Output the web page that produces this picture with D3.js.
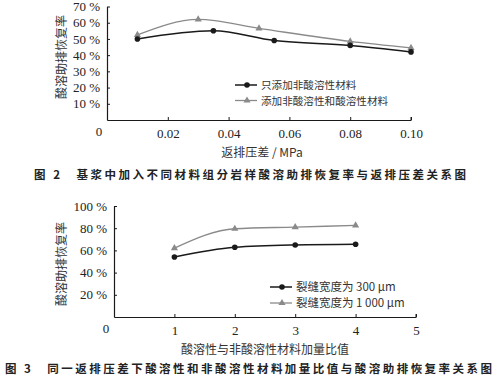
<!DOCTYPE html>
<html><head><meta charset="utf-8">
<script src="https://cdn.jsdelivr.net/npm/d3@7"></script>
<style>body{margin:0;background:#fff}svg{display:block}</style>
</head><body>
<svg id="c" width="500" height="379"></svg>
<script>
// ---- Chart 1 data ----
const c1X1 = [0.01, 0.035, 0.055, 0.08, 0.10];
const c1Y1 = [50, 55, 49, 46, 42];
const c1X2 = [0.01, 0.03, 0.05, 0.08, 0.10];
const c1Y2 = [52.5, 62, 56.5, 48.5, 44.5];
const c1XTicks = [0.02, 0.04, 0.06, 0.08, 0.10];
const c1YTicks = [10, 20, 30, 40, 50, 60, 70];
const c1Legend = ["只添加非酸溶性材料", "添加非酸溶性和酸溶性材料"];
const c1XTitle = "返排压差 / MPa";
const c1Caption = "图 2　基浆中加入不同材料组分岩样酸溶助排恢复率与返排压差关系图";
// ---- Chart 2 data ----
const c2X = [1, 2, 3, 4];
const c2Y1 = [54, 62.8, 64.9, 65.5];
const c2Y2 = [62, 79.5, 81, 82.5];
const c2XTicks = [1, 2, 3, 4, 5];
const c2YTicks = [20, 40, 60, 80, 100];
const c2Legend = ["裂缝宽度为 300 μm", "裂缝宽度为 1 000 μm"];
const c2XTitle = "酸溶性与非酸溶性材料加量比值";
const c2Caption = "图 3　同一返排压差下酸溶性和非酸溶性材料加量比值与酸溶助排恢复率关系图";
const yTitle = "酸溶助排恢复率";

const svg = d3.select("#c");
const serif = "'Times New Roman', 'Liberation Serif', 'DejaVu Serif', serif";
const cjk = "'Noto Sans CJK SC', sans-serif";
const dark = "#1a1a1a", gray = "#8a8a8a";

function drawChart(o) {
  const x = d3.scaleLinear().domain(o.xDom).range([o.x0, o.x1]);
  const y = d3.scaleLinear().domain(o.yDom).range([o.y0, o.y1]);
  const g = svg.append("g");
  const xa = g.append("g").attr("transform", `translate(0,${o.y0})`)
    .call(d3.axisBottom(x).tickValues(o.xTicks).tickSizeInner(-3).tickSizeOuter(0).tickFormat(o.xFmt).tickPadding(9));
  const ya = g.append("g").attr("transform", `translate(${o.x0},0)`)
    .call(d3.axisLeft(y).tickValues(o.yTicks).tickSizeInner(-3).tickSizeOuter(0).tickFormat(d => d + " %").tickPadding(7));
  [xa, ya].forEach(a => {
    a.attr("font-family", null).attr("font-size", null);
    a.select(".domain").attr("stroke", dark).attr("stroke-width", 1.2);
    a.selectAll(".tick line").attr("stroke", dark);
    a.selectAll("text").style("font-family", serif).style("font-size", "13px").attr("fill", "#222");
  });
  g.append("line").attr("x1", o.x1).attr("x2", o.x1).attr("y1", o.y0).attr("y2", o.y0 - 3).attr("stroke", dark);
  g.append("text").attr("x", o.x0 - 8).attr("y", o.y0 + 16).attr("text-anchor", "middle")
    .style("font-family", serif).style("font-size", "13px").attr("fill", "#222").text("0");
  g.append("text").attr("transform", `translate(${o.yTitleX},${o.yTitleY}) rotate(-90)`)
    .attr("text-anchor", "middle").style("font-family", cjk).style("font-size", "12px").attr("fill", "#333").text(yTitle);
  g.append("text").attr("x", o.xTitleX).attr("y", o.xTitleY).attr("text-anchor", "middle")
    .style("font-family", cjk).style("font-size", "12px").attr("fill", "#333").text(o.xTitle);
  const line = d3.line().x(d => x(d[0])).y(d => y(d[1])).curve(d3.curveMonotoneX);
  const s2 = o.sx2.map((v, i) => [v, o.sy2[i]]);
  const s1 = o.sx1.map((v, i) => [v, o.sy1[i]]);
  g.append("path").datum(s2).attr("d", line).attr("fill", "none").attr("stroke", gray).attr("stroke-width", 1.3);
  g.append("path").datum(s1).attr("d", line).attr("fill", "none").attr("stroke", dark).attr("stroke-width", 1.5);
  const tri = d3.symbol().type(d3.symbolTriangle).size(22);
  g.selectAll(".t").data(s2).join("path").attr("d", tri)
    .attr("transform", d => `translate(${x(d[0])},${y(d[1])})`).attr("fill", gray);
  g.selectAll(".c").data(s1).join("circle").attr("cx", d => x(d[0])).attr("cy", d => y(d[1]))
    .attr("r", 2.8).attr("fill", dark);
  o.legend.forEach((t, i) => {
    const ly = o.legY + i * o.legGap;
    const col = i === 0 ? dark : gray;
    g.append("line").attr("x1", o.legX - 12).attr("x2", o.legX + 10).attr("y1", ly).attr("y2", ly)
      .attr("stroke", col).attr("stroke-width", i === 0 ? 1.5 : 1.3);
    if (i === 0) g.append("circle").attr("cx", o.legX).attr("cy", ly).attr("r", 2.8).attr("fill", dark);
    else g.append("path").attr("d", tri).attr("transform", `translate(${o.legX},${ly})`).attr("fill", gray);
    g.append("text").attr("x", o.legX + 14).attr("y", ly + 4).style("font-family", cjk).style("font-size", o.legFont)
      .attr("fill", "#333").text(t);
  });
  g.append("text").attr("x", o.capX).attr("y", o.capY).style("font-family", cjk).attr("font-weight", "bold")
    .style("font-size", "11.5px").attr("fill", "#222").attr("textLength", o.capW).attr("lengthAdjust", "spacing").text(o.caption);
}

drawChart({
  xDom: [0, 0.10], yDom: [0, 70], x0: 107, x1: 411, y0: 120, y1: 6.5,
  xTicks: c1XTicks, yTicks: c1YTicks, xFmt: d3.format(".2f"),
  sx1: c1X1, sy1: c1Y1, sx2: c1X2, sy2: c1Y2,
  legend: c1Legend, legX: 247, legY: 85, legGap: 15.5, legFont: "10.6px",
  yTitleX: 66, yTitleY: 57, xTitle: c1XTitle, xTitleX: 262, xTitleY: 157,
  caption: c1Caption, capX: 34, capY: 179, capW: 432
});
drawChart({
  xDom: [0, 5], yDom: [0, 100], x0: 114, x1: 416, y0: 317, y1: 206,
  xTicks: c2XTicks, yTicks: c2YTicks, xFmt: d3.format("d"),
  sx1: c2X, sy1: c2Y1, sx2: c2X, sy2: c2Y2,
  legend: c2Legend, legX: 282, legY: 287, legGap: 16, legFont: "11.5px",
  yTitleX: 66, yTitleY: 264, xTitle: c2XTitle, xTitleX: 265, xTitleY: 354,
  caption: c2Caption, capX: 5, capY: 373, capW: 487
});
</script>
</body></html>
